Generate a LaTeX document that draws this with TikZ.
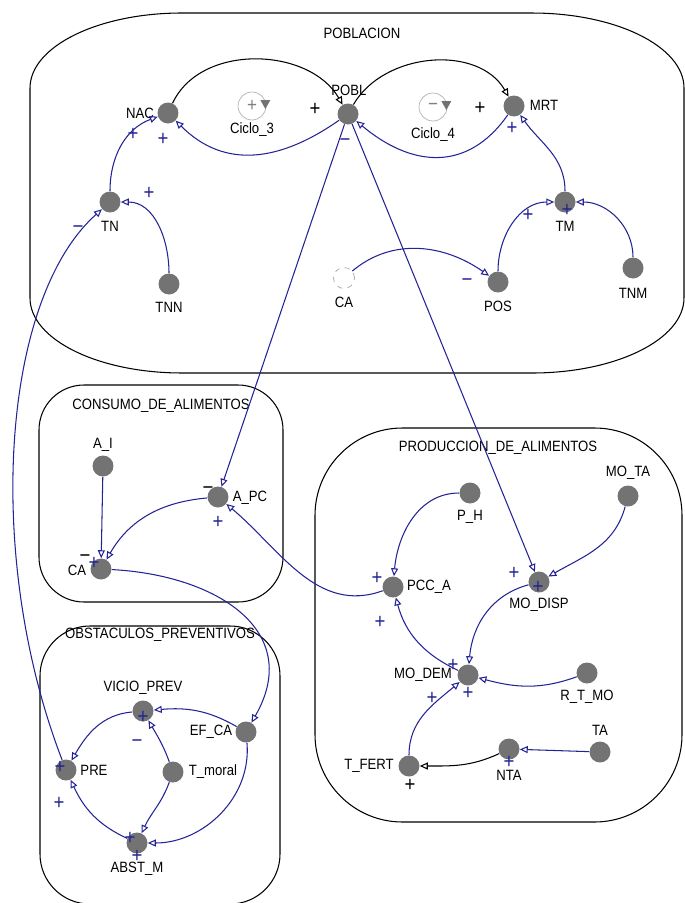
\documentclass[tikz,border=0pt]{standalone}
\usepackage{fontspec}
\setmainfont{Liberation Sans}[FakeStretch=0.88]
\usetikzlibrary{arrows.meta,calc}

\definecolor{linkblue}{RGB}{35,35,150}
\definecolor{vargray}{RGB}{115,115,115}

\tikzset{
  var/.style={circle, fill=vargray, inner sep=0pt, minimum size=0.42cm},
  ghost/.style={circle, draw=gray!70, dashed, inner sep=0pt, minimum size=0.42cm},
  lbl/.style={font=\fontsize{8.5}{9}\selectfont, inner sep=0pt},
  sgn/.style={font=\fontsize{12}{12}\selectfont, inner sep=0pt, text=linkblue},
  sgnk/.style={sgn, text=black},
  link/.style={->, draw=linkblue, line width=0.6pt},
  linkk/.style={->, draw=black, line width=0.6pt},
  sector/.style={draw=black, line width=0.6pt},
  loopmark/.style={circle, draw=gray!60, inner sep=0pt, minimum size=0.56cm, text=gray, font=\fontsize{11}{11}\selectfont},
}

\begin{document}
\begin{tikzpicture}[x=0.02cm, y=0.02cm, >={Triangle[open,length=4.5pt,width=4pt]}]
    \clip (0,0) rectangle (685,-903);
    \def\prx{3.04cm}
    \def\pry{1.5cm}
    % sectors
    \draw[sector] (30,-88) -- (30,-298) arc[start angle=180, end angle=270, x radius=\prx, y radius=\pry]
        -- (532,-373) arc[start angle=270, end angle=360, x radius=\prx, y radius=\pry]
        -- (684,-88) arc[start angle=0, end angle=90, x radius=\prx, y radius=\pry]
        -- (182,-13) arc[start angle=90, end angle=180, x radius=\prx, y radius=\pry] -- cycle;
    \draw[sector, rounded corners=0.9cm] (39,-385) rectangle (283,-602);
    \draw[sector, rounded corners=1.75cm] (315,-428) rectangle (682,-822);
    \draw[sector, rounded corners=1cm] (40,-626) rectangle (280,-904);
    \node[lbl] (poblacion) at (362,-33) {POBLACION};
    \node[lbl] (consumo) at (161,-406) {CONSUMO\_DE\_ALIMENTOS};
    \node[lbl] (produccion) at (498,-448) {PRODUCCION\_DE\_ALIMENTOS};
    \node[lbl] (obstaculos) at (160,-635) {OBSTACULOS\_PREVENTIVOS};

    % poblacion
    \node[var] (nac) at (168,-113) {};
    \node[lbl] (nac-txt) at (140,-113) {NAC};
    \node[var] (pobl) at (348,-114) {};
    \node[lbl] (pobl-txt) at (349,-90) {POBL};
    \node[var] (mrt) at (514,-106) {};
    \node[lbl] (mrt-txt) at (544,-105) {MRT};
    \node[var] (tn) at (110,-202) {};
    \node[lbl] (tn-txt) at (110,-226) {TN};
    \node[var] (tnn) at (169,-284) {};
    \node[lbl] (tnn-txt) at (169,-307) {TNN};
    \node[var] (tm) at (565,-202) {};
    \node[lbl] (tm-txt) at (565,-226) {TM};
    \node[var] (tnm) at (633,-268) {};
    \node[lbl] (tnm-txt) at (633,-293) {TNM};
    \node[ghost] (ca-ghost) at (344,-278) {};
    \node[lbl] (ca-ghost-txt) at (344,-302) {CA};
    \node[var] (pos) at (498,-282) {};
    \node[lbl] (pos-txt) at (498,-306) {POS};
    \node[loopmark] (ciclo3) at (252,-106) {+};
    \node[lbl] (ciclo3-txt) at (252,-130) {Ciclo\_3};
    \fill[vargray] ($(ciclo3.east)+(-6,6)$) -- ++(10,0) -- ++(-5,-9) -- cycle;
    \node[loopmark] (ciclo4) at (433,-107) {−};
    \node[lbl] (ciclo4-txt) at (433,-135) {Ciclo\_4};
    \fill[vargray] ($(ciclo4.east)+(-6,6)$) -- ++(10,0) -- ++(-5,-9) -- cycle;

    % consumo de alimentos
    \node[var] (ai) at (103,-466) {};
    \node[lbl] (ai-txt) at (103,-445) {A\_I};
    \node[var] (apc) at (218,-497) {};
    \node[lbl] (apc-txt) at (250,-498) {A\_PC};
    \node[var] (ca) at (101,-569) {};
    \node[lbl] (ca-txt) at (77,-570) {CA};

    % produccion de alimentos
    \node[var] (ph) at (470,-493) {};
    \node[lbl] (ph-txt) at (470,-517) {P\_H};
    \node[var] (mota) at (628,-496) {};
    \node[lbl] (mota-txt) at (628,-473) {MO\_TA};
    \node[var] (pcca) at (393,-587) {};
    \node[lbl] (pcca-txt) at (429,-587) {PCC\_A};
    \node[var] (modisp) at (539,-582) {};
    \node[lbl] (modisp-txt) at (539,-605) {MO\_DISP};
    \node[var] (modem) at (468,-675) {};
    \node[lbl] (modem-txt) at (423,-675) {MO\_DEM};
    \node[var] (rtmo) at (587,-673) {};
    \node[lbl] (rtmo-txt) at (587,-697) {R\_T\_MO};
    \node[var] (ta) at (600,-752) {};
    \node[lbl] (ta-txt) at (600,-730) {TA};
    \node[var] (nta) at (509,-749) {};
    \node[lbl] (nta-txt) at (509,-775) {NTA};
    \node[var] (tfert) at (409,-766) {};
    \node[lbl] (tfert-txt) at (369,-766) {T\_FERT};

    % obstaculos preventivos
    \node[var] (vicio) at (143,-711) {};
    \node[lbl] (vicio-txt) at (143,-688) {VICIO\_PREV};
    \node[var] (pre) at (66,-770) {};
    \node[lbl] (pre-txt) at (94,-770) {PRE};
    \node[var] (tmoral) at (173,-772) {};
    \node[lbl] (tmoral-txt) at (213,-772) {T\_moral};
    \node[var] (abstm) at (137,-843) {};
    \node[lbl] (abstm-txt) at (137,-869) {ABST\_M};
    \node[var] (efca) at (246,-732) {};
    \node[lbl] (efca-txt) at (211,-732) {EF\_CA};

    % links
    \draw[linkk] (nac) to[out=65, in=120] (pobl);
    \draw[link] (pobl) to[out=215, in=-45, looseness=1.1] (nac);
    \draw[linkk] (pobl) to[out=60, in=120] (mrt);
    \draw[link] (mrt) to[out=235, in=-40, looseness=1.2] (pobl);
    \draw[link] (tn) to[out=90, in=200] (nac);
    \draw[link] (tnn) to[out=90, in=0] (tn);
    \draw[link] (tm) to[out=90, in=-55] (mrt);
    \draw[link] (pos) to[out=90, in=180] (tm);
    \draw[link] (tnm) to[out=90, in=0] (tm);
    \draw[link] (ca-ghost) to[out=40, in=145] (pos);
    \draw[link] (pobl) -- (apc);
    \draw[link] (pobl) -- (modisp);
    \draw[link] (pre) .. controls (-15,-560) and (0,-300) .. (tn);
    \draw[link] (ai) -- (ca);
    \draw[link] (apc) to[out=185, in=60] (ca);
    \draw[link] (pcca) to[out=200, in=-40] (apc);
    \draw[link] (ca) to[out=-3, in=60, looseness=1.3] (efca);
    \draw[link] (ph) to[out=180, in=85] (pcca);
    \draw[link] (mota) to[out=-105, in=30] (modisp);
    \draw[link] (modisp) to[out=195, in=85] (modem);
    \draw[link] (modem) to[out=155, in=-75] (pcca);
    \draw[link] (rtmo) to[out=200, in=-15] (modem);
    \draw[link] (tfert) to[out=90, in=220] (modem);
    \draw[link] (ta) -- (nta);
    \draw[linkk] (nta) to[out=205, in=0] (tfert);
    \draw[link] (efca) to[out=150, in=5] (vicio);
    \draw[link] (vicio) to[out=185, in=60] (pre);
    \draw[link] (tmoral) to[out=110, in=-60] (vicio);
    \draw[link] (tmoral) to[out=-110, in=65] (abstm);
    \draw[link] (efca) to[out=-85, in=0] (abstm);
    \draw[link] (abstm) to[out=155, in=-65] (pre);

    % polarities
    \node[sgnk] (s-nac-pobl) at (315,-109) {+};
    \node[sgnk] (s-pobl-mrt) at (480,-108) {+};
    \node[sgn] (s-tn-nac) at (133,-134) {+};
    \node[sgn] (s-pobl-nac) at (163,-139) {+};
    \node[sgn] (s-tnn-tn) at (149,-193) {+};
    \node[sgn] (s-pre-tn) at (78,-230) {−};
    \node[sgn] (s-pobl-apc) at (345,-143) {−};
    \node[sgn] (s-mrt-pobl) at (512,-128) {+};
    \node[sgn] (s-tm) at (567,-210) {+};
    \node[sgn] (s-pos-tm) at (528,-215) {+};
    \node[sgn] (s-ca-pos) at (467,-283) {−};
    \node[sgnk] (s-apc-a) at (208,-491) {−};
    \node[sgn] (s-apc-b) at (218,-522) {+};
    \node[sgnk] (s-ca-a) at (85,-559) {−};
    \node[sgn] (s-ca-b) at (94,-563) {+};
    \node[sgn] (s-ph-pcca) at (377,-578) {+};
    \node[sgn] (s-modem-pcca) at (380,-622) {+};
    \node[sgn] (s-pobl-modisp) at (514,-573) {+};
    \node[sgn] (s-modisp) at (538,-587) {+};
    \node[sgn] (s-modem-a) at (453,-665) {+};
    \node[sgn] (s-modem-b) at (468,-693) {+};
    \node[sgn] (s-tfert-modem) at (432,-698) {+};
    \node[sgnk] (s-tfert) at (410,-785) {+};
    \node[sgn] (s-nta) at (509,-762) {+};
    \node[sgn] (s-pre-a) at (60,-767) {+};
    \node[sgn] (s-pre-b) at (59,-803) {+};
    \node[sgn] (s-vicio) at (143,-717) {+};
    \node[sgn] (s-tmoral-vicio) at (137,-744) {−};
    \node[sgn] (s-abstm-a) at (130,-838) {+};
    \node[sgn] (s-abstm-b) at (137,-856) {+};
\end{tikzpicture}
\end{document}
